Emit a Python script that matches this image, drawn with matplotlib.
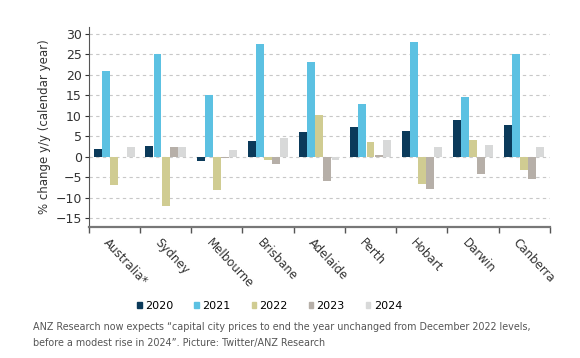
import matplotlib.pyplot as plt
import numpy as np

cities = ["Australia*", "Sydney", "Melbourne", "Brisbane", "Adelaide",
          "Perth", "Hobart", "Darwin", "Canberra"]
years = ["2020", "2021", "2022", "2023", "2024"]
v2020 = [2.0, 2.7, -1.0, 3.9, 6.0, 7.3, 6.2, 9.0, 7.7]
v2021 = [21.0, 25.2, 15.2, 27.5, 23.2, 13.0, 27.9, 14.6, 25.0]
v2022 = [-6.8, -12.0, -8.0, -0.8, 10.1, 3.5, -6.7, 4.2, -3.2]
v2023 = [0.0, 2.4, -0.3, -1.8, -6.0, 0.5, -7.9, -4.1, -5.4]
v2024 = [2.5, 2.4, 1.6, 4.5, -0.8, 4.1, 2.4, 2.9, 2.4]
yticks = [-15, -10, -5, 0, 5, 10, 15, 20, 25, 30]

colors = ["#0b3a5a", "#5cc1e2", "#d0cc92", "#b6afa8", "#d8d9d9"]
series = [v2020, v2021, v2022, v2023, v2024]

fig = plt.figure(figsize=(5.8, 3.58), dpi=100)
ax = fig.add_axes([0.153, 0.366, 0.795, 0.559])

x = np.arange(len(cities))
w = 0.155
for i, (vals, c, yr) in enumerate(zip(series, colors, years)):
    ax.bar(x + (i - 2) * w * 1.02, vals, width=w, color=c, label=yr, zorder=3)

ax.set_xlim(-0.5, len(cities) - 0.5)
ax.set_ylim(-17.1, 31.7)
ax.set_yticks(yticks)
ax.tick_params(axis="y", labelsize=9, colors="#333333", length=3, pad=2)
ax.yaxis.grid(True, linestyle=(0, (3, 3)), color="#c8c8c8", linewidth=0.8, zorder=0)
ax.set_xticks(np.arange(len(cities) + 1) - 0.5)
ax.set_xticklabels([])
ax.tick_params(axis="x", length=4, width=1, colors="#555555")
for s in ["top", "right"]:
    ax.spines[s].set_visible(False)
ax.spines["left"].set_color("#555555")
ax.spines["bottom"].set_color("#777777")
ax.spines["bottom"].set_linewidth(1.6)

# rotated city labels, anchored near each group centre
for xi, name in zip(x, cities):
    ax.text(xi - 0.08, -19.3, name, rotation=-47, ha="left", va="top",
            rotation_mode="anchor", fontsize=8.5, color="#333333")

ax.set_ylabel("% change y/y (calendar year)", fontsize=8.5, color="#333333", labelpad=3)

handles = [plt.Rectangle((0, 0), 1, 1, color=c) for c in colors]
fig.legend(handles, years, loc="center", bbox_to_anchor=(0.465, 0.145), ncol=5,
           frameon=False, fontsize=8, handlelength=0.4, handleheight=0.4,
           handletextpad=0.3, columnspacing=1.9)

fig.text(0.057, 0.087,
         "ANZ Research now expects \u201ccapital city prices to end the year unchanged from December 2022 levels,",
         fontsize=6.9, color="#555555", va="center")
fig.text(0.057, 0.042,
         "before a modest rise in 2024\u201d. Picture: Twitter/ANZ Research",
         fontsize=6.9, color="#555555", va="center")

fig.savefig("out.png", dpi=100)
